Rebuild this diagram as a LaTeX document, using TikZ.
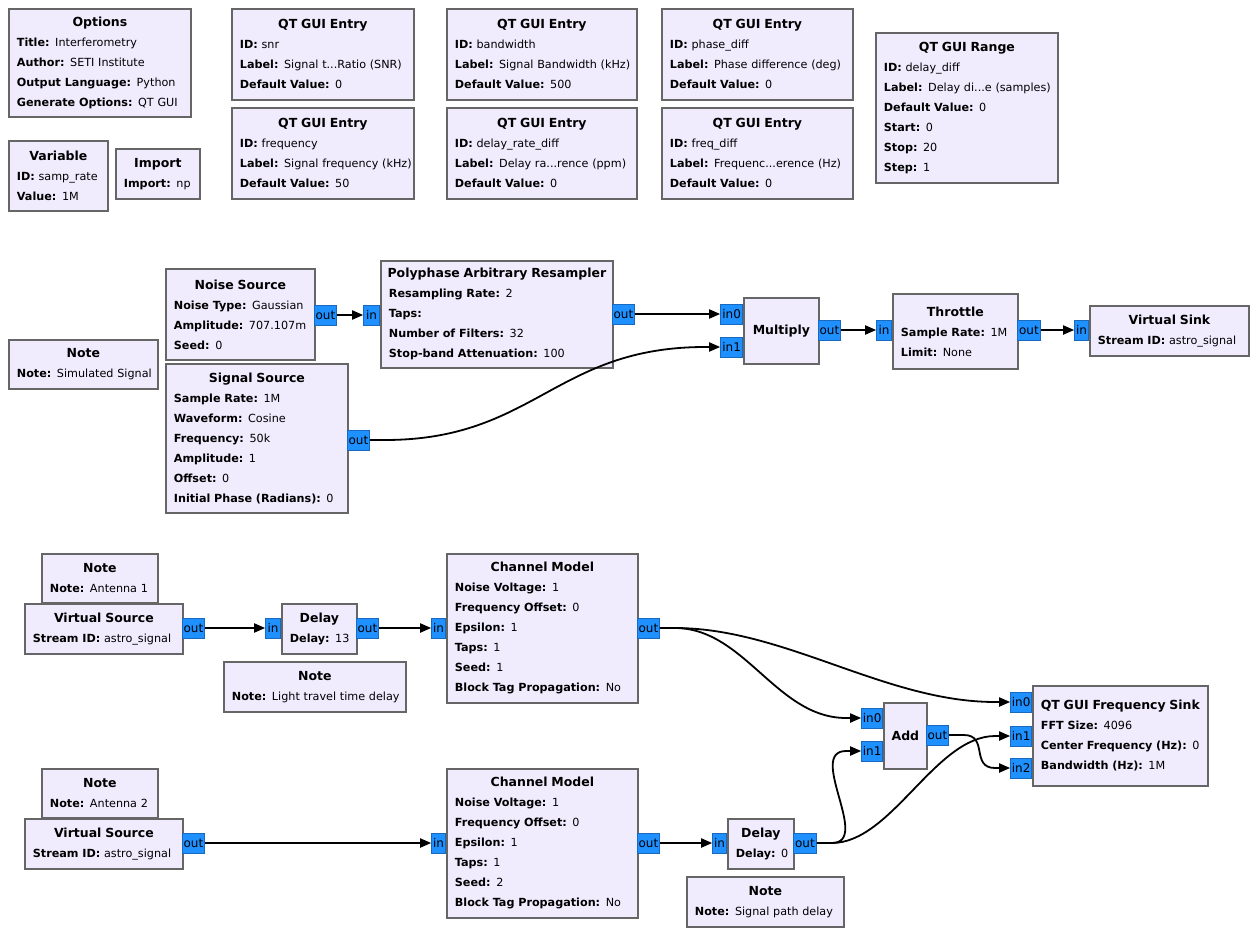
\documentclass[tikz,border=0pt]{standalone}
\usepackage{fontspec}
\setmainfont{DejaVu Sans}
\usetikzlibrary{arrows.meta,calc}
\definecolor{blkfill}{RGB}{240,236,254}
\definecolor{blkline}{RGB}{102,102,102}
\definecolor{portfill}{RGB}{30,144,255}
\definecolor{portline}{RGB}{25,105,190}
\newcommand\gfont{\fontsize{11.2}{20}\selectfont}
\newcommand\gt[1]{\hbox to\hsize{\hss\fontsize{12.5}{20}\selectfont\bfseries #1\hss}}
\newcommand\gk[2]{\hbox{\textbf{#1:} #2}}
\newcommand\gblock[6]{%
  \pgfmathsetlengthmacro\gtw{#4-16}%
  \node[blk,minimum width=#4pt,minimum height=#5pt,text width=\gtw] (#1) at (#2,#3) {\vbox{\gfont #6}};}
\begin{document}
\begin{tikzpicture}[x=1pt,y=-1pt,
  blk/.style={draw=blkline,line width=1.8pt,fill=blkfill,inner sep=0pt,anchor=north west,font=\gfont},
  port/.style={draw=portline,line width=0.8pt,fill=portfill,inner sep=0pt,minimum height=20pt,font=\fontsize{12}{14}\selectfont},
  inport/.style={port,anchor=east},
  outport/.style={port,anchor=west},
  conn/.style={line width=1.8pt,black,-{Triangle[length=11pt,width=9pt]}}]
\fill[white] (0,0) rectangle (1256,934);
\useasboundingbox (0,0) rectangle (1256,934);
% variable blocks
\gblock{opt}{8}{8}{182}{108}{\gt{Options}\gk{Title}{Interferometry}\gk{Author}{SETI Institute}\gk{Output Language}{Python}\gk{Generate Options}{QT GUI}}
\gblock{var}{8}{140}{99}{70}{\gt{Variable}\gk{ID}{samp\_rate}\gk{Value}{1M}}
\gblock{imp}{115}{148}{84}{50}{\gt{Import}\gk{Import}{np}}
\gblock{snr}{231}{8}{182}{91}{\gt{QT GUI Entry}\gk{ID}{snr}\gk{Label}{Signal t...Ratio (SNR)}\gk{Default Value}{0}}
\gblock{freq}{231}{107}{182}{91}{\gt{QT GUI Entry}\gk{ID}{frequency}\gk{Label}{Signal frequency (kHz)}\gk{Default Value}{50}}
\gblock{bw}{446}{8}{190}{91}{\gt{QT GUI Entry}\gk{ID}{bandwidth}\gk{Label}{Signal Bandwidth (kHz)}\gk{Default Value}{500}}
\gblock{drd}{446}{107}{190}{91}{\gt{QT GUI Entry}\gk{ID}{delay\_rate\_diff}\gk{Label}{Delay ra...rence (ppm)}\gk{Default Value}{0}}
\gblock{pd}{661}{8}{191}{91}{\gt{QT GUI Entry}\gk{ID}{phase\_diff}\gk{Label}{Phase difference (deg)}\gk{Default Value}{0}}
\gblock{fd}{661}{107}{191}{91}{\gt{QT GUI Entry}\gk{ID}{freq\_diff}\gk{Label}{Frequenc...erence (Hz)}\gk{Default Value}{0}}
\gblock{rng}{875}{32}{182}{150}{\gt{QT GUI Range}\gk{ID}{delay\_diff}\gk{Label}{Delay di...e (samples)}\gk{Default Value}{0}\gk{Start}{0}\gk{Stop}{20}\gk{Step}{1}}
% simulated signal
\gblock{note1}{8}{339}{149}{49}{\gt{Note}\gk{Note}{Simulated Signal}}
\gblock{ns}{165}{268}{149}{91}{\gt{Noise Source}\gk{Noise Type}{Gaussian}\gk{Amplitude}{707.107m}\gk{Seed}{0}}
\gblock{sig}{165}{363}{182}{149}{\gt{Signal Source}\gk{Sample Rate}{1M}\gk{Waveform}{Cosine}\gk{Frequency}{50k}\gk{Amplitude}{1}\gk{Offset}{0}\gk{Initial Phase (Radians)}{0}}
\gblock{pp}{380}{260}{232}{107}{\gt{Polyphase Arbitrary Resampler}\gk{Resampling Rate}{2}\gk{Taps}{}\gk{Number of Filters}{32}\gk{Stop-band Attenuation}{100}}
\gblock{mul}{743}{297}{75}{66}{\gt{Multiply}}
\gblock{thr}{892}{293}{125}{75}{\gt{Throttle}\gk{Sample Rate}{1M}\gk{Limit}{None}}
\gblock{vsink}{1089}{305}{159}{50}{\gt{Virtual Sink}\gk{Stream ID}{astro\_signal}}
% antenna 1
\gblock{noteA1}{41}{553}{116}{49}{\gt{Note}\gk{Note}{Antenna 1}}
\gblock{vs1}{24}{603}{158}{50}{\gt{Virtual Source}\gk{Stream ID}{astro\_signal}}
\gblock{d13}{281}{603}{75}{50}{\gt{Delay}\gk{Delay}{13}}
\gblock{noteL}{223}{661}{182}{50}{\gt{Note}\gk{Note}{Light travel time delay}}
\gblock{cm1}{446}{553}{191}{149}{\gt{Channel Model}\gk{Noise Voltage}{1}\gk{Frequency Offset}{0}\gk{Epsilon}{1}\gk{Taps}{1}\gk{Seed}{1}\gk{Block Tag Propagation}{No}}
\gblock{add}{883}{702}{43}{66}{\gt{Add}}
\gblock{fs}{1032}{685}{175}{100}{\gt{QT GUI Frequency Sink}\gk{FFT Size}{4096}\gk{Center Frequency (Hz)}{0}\gk{Bandwidth (Hz)}{1M}}
% antenna 2
\gblock{noteA2}{41}{768}{116}{49}{\gt{Note}\gk{Note}{Antenna 2}}
\gblock{vs2}{24}{818}{158}{50}{\gt{Virtual Source}\gk{Stream ID}{astro\_signal}}
\gblock{cm2}{446}{768}{191}{149}{\gt{Channel Model}\gk{Noise Voltage}{1}\gk{Frequency Offset}{0}\gk{Epsilon}{1}\gk{Taps}{1}\gk{Seed}{2}\gk{Block Tag Propagation}{No}}
\gblock{d0}{727}{818}{66}{50}{\gt{Delay}\gk{Delay}{0}}
\gblock{noteS}{686}{876}{157}{50}{\gt{Note}\gk{Note}{Signal path delay}}
% ports
\node[outport,minimum width=22pt] (nsout) at (314,315) {out};
\node[inport,minimum width=16pt] (ppin) at (380,315) {in};
\node[outport,minimum width=22pt] (ppout) at (612,314) {out};
\node[inport,minimum width=22pt] (mulin0) at (743,314) {in0};
\node[inport,minimum width=22pt] (mulin1) at (743,347) {in1};
\node[outport,minimum width=22pt] (mulout) at (818,330) {out};
\node[inport,minimum width=15pt] (thrin) at (892,330) {in};
\node[outport,minimum width=23pt] (throut) at (1017,330) {out};
\node[inport,minimum width=14pt] (vsin) at (1089,330) {in};
\node[outport,minimum width=22pt] (sigout) at (347,440) {out};
\node[outport,minimum width=22pt] (vs1out) at (182,628) {out};
\node[inport,minimum width=15pt] (d13in) at (281,628) {in};
\node[outport,minimum width=22pt] (d13out) at (356,628) {out};
\node[inport,minimum width=14pt] (cm1in) at (446,628) {in};
\node[outport,minimum width=22pt] (cm1out) at (637,628) {out};
\node[inport,minimum width=21pt] (addin0) at (883,718) {in0};
\node[inport,minimum width=21pt] (addin1) at (883,751) {in1};
\node[outport,minimum width=22pt] (addout) at (926,735) {out};
\node[inport,minimum width=21pt] (fsin0) at (1032,702) {in0};
\node[inport,minimum width=21pt] (fsin1) at (1032,736) {in1};
\node[inport,minimum width=21pt] (fsin2) at (1032,768) {in2};
\node[outport,minimum width=22pt] (vs2out) at (182,843) {out};
\node[inport,minimum width=14pt] (cm2in) at (446,843) {in};
\node[outport,minimum width=22pt] (cm2out) at (637,843) {out};
\node[inport,minimum width=14pt] (d0in) at (727,843) {in};
\node[outport,minimum width=23pt] (d0out) at (793,843) {out};
% connections
\draw[conn] (nsout.east) -- (ppin.west);
\draw[conn] (ppout.east) -- (mulin0.west);
\draw[conn] (mulout.east) -- (thrin.west);
\draw[conn] (throut.east) -- (vsin.west);
\draw[conn] (sigout.east) -- ++(15,0) .. controls +(150,0) and +(-150,0) .. ($(mulin1.west)+(-15,0)$) -- (mulin1.west);
\draw[conn] (vs1out.east) -- (d13in.west);
\draw[conn] (d13out.east) -- (cm1in.west);
\draw[conn] (cm1out.east) -- ++(15,0) .. controls +(110,0) and +(-110,0) .. ($(fsin0.west)+(-15,0)$) -- (fsin0.west);
\draw[conn] (cm1out.east) -- ++(15,0) .. controls +(70,0) and +(-70,0) .. ($(addin0.west)+(-15,0)$) -- (addin0.west);
\draw[conn] (vs2out.east) -- (cm2in.west);
\draw[conn] (cm2out.east) -- (d0in.west);
\draw[conn] (d0out.east) -- ++(15,0) .. controls +(40,0) and +(-40,0) .. ($(addin1.west)+(-15,0)$) -- (addin1.west);
\draw[conn] (d0out.east) -- ++(15,0) .. controls +(60,0) and +(-60,0) .. ($(fsin1.west)+(-15,0)$) -- (fsin1.west);
\draw[conn] (addout.east) -- ++(15,0) .. controls +(25,0) and +(-25,0) .. ($(fsin2.west)+(-15,0)$) -- (fsin2.west);
\end{tikzpicture}
\end{document}
